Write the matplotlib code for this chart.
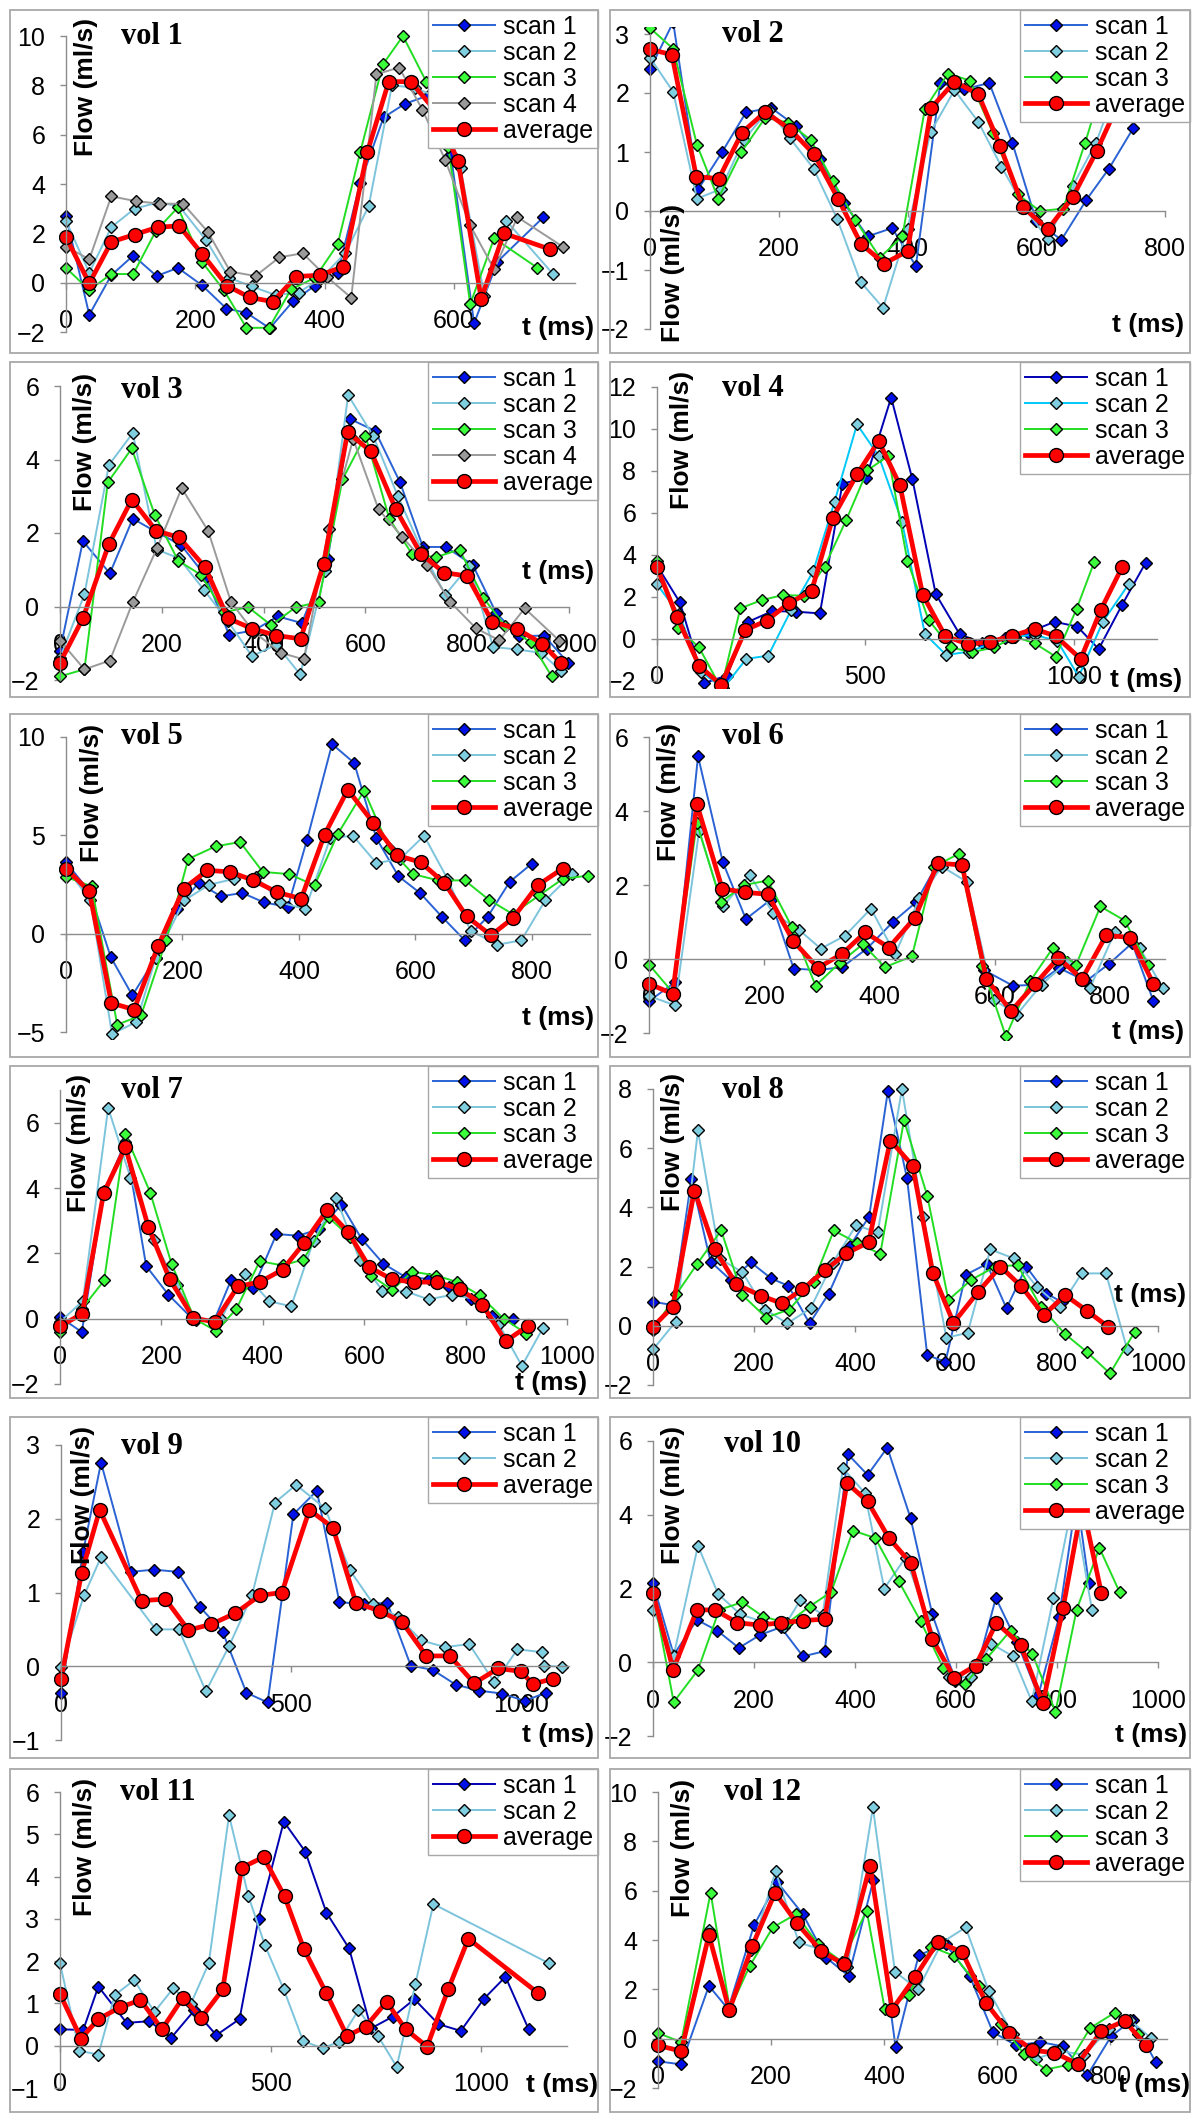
import matplotlib
matplotlib.use("Agg")
import matplotlib.pyplot as plt
from matplotlib.patches import Rectangle

W, H = 1200, 2118

# ---------------- data: t (ms), flow (ml/s) ----------------
vol1_scan1_t = [0, 36, 70, 104, 140, 173, 210, 248, 279, 315, 351, 385, 420, 455, 491, 524, 561, 595, 631, 667, 738]
vol1_scan1 = [2.7, -1.3, 0.3, 1.1, 0.27, 0.6, -0.1, -1.05, -1.22, -1.85, -0.75, -0.12, 0.4, 4.05, 6.7, 7.25, 7.6, 5.2, -1.65, 0.85, 2.65]
vol1_scan2_t = [0, 36, 70, 106, 142, 175, 216, 252, 287, 324, 360, 395, 432, 468, 504, 540, 575, 610, 647, 681, 753]
vol1_scan2 = [2.5, 0.4, 2.25, 3.0, 3.25, 3.1, 1.75, 0.2, -0.15, -0.5, -0.4, 0.2, 1.2, 3.1, 8.0, 7.9, 7.5, 4.65, -0.55, 2.5, 0.35]
vol1_scan3_t = [0, 36, 70, 104, 139, 173, 210, 244, 279, 314, 348, 385, 420, 455, 490, 521, 557, 591, 625, 662, 729]
vol1_scan3 = [0.6, -0.3, 0.35, 0.35, 2.1, 3.05, 0.85, -0.3, -1.83, -1.83, -0.27, 0.2, 1.55, 5.3, 8.85, 10.0, 8.15, 5.5, -0.87, 1.8, 0.6]
vol1_scan4_t = [0, 36, 70, 109, 146, 181, 219, 254, 293, 330, 366, 403, 441, 480, 515, 551, 586, 625, 662, 698, 768]
vol1_scan4 = [1.46, 0.95, 3.5, 3.3, 3.2, 3.2, 2.07, 0.45, 0.27, 1.03, 1.19, 0.24, -0.61, 8.45, 8.72, 7.02, 4.99, 2.32, 0.54, 2.66, 1.46]
vol1_avg_t = [0, 36, 70, 106, 142, 175, 211, 249, 284, 320, 356, 392, 429, 466, 499, 533, 570, 606, 642, 677, 749]
vol1_avg = [1.85, -0.03, 1.65, 1.95, 2.25, 2.3, 1.15, -0.12, -0.6, -0.77, 0.25, 0.3, 0.65, 5.3, 8.15, 8.15, 7.0, 4.95, -0.65, 2.0, 1.35]

vol2_scan1_t = [0, 36, 75, 112, 149, 188, 227, 264, 301, 338, 376, 413, 451, 487, 527, 563, 600, 639, 678, 713, 751]
vol2_scan1 = [2.4, 3.2, 0.37, 1.0, 1.67, 1.75, 1.44, 0.88, 0.14, -0.43, -0.29, -0.93, 2.17, 2.06, 2.17, 1.15, -0.17, -0.49, 0.19, 0.72, 1.41]
vol2_scan2_t = [0, 36, 73, 110, 146, 185, 217, 254, 291, 327, 362, 400, 436, 473, 510, 546, 582, 618, 657, 693, 728]
vol2_scan2 = [2.6, 2.02, 0.21, 0.37, 1.21, 1.72, 1.24, 0.72, -0.14, -1.2, -1.64, -0.3, 1.34, 2.05, 1.51, 0.75, 0.05, -0.48, 0.43, 1.16, 2.2]
vol2_scan3_t = [0, 36, 73, 106, 142, 179, 215, 250, 284, 319, 357, 392, 427, 463, 497, 533, 571, 606, 642, 676, 711]
vol2_scan3 = [3.1, 2.75, 1.12, 0.21, 1.0, 1.58, 1.5, 1.2, 0.51, -0.15, -0.79, -0.43, 1.73, 2.33, 2.21, 1.32, 0.28, 0.0, 0.04, 1.16, 2.4]
vol2_avg_t = [0, 34, 72, 107, 143, 179, 218, 255, 292, 328, 364, 400, 437, 473, 510, 544, 580, 618, 657, 694, 731]
vol2_avg = [2.74, 2.65, 0.58, 0.55, 1.33, 1.68, 1.38, 0.96, 0.21, -0.56, -0.89, -0.68, 1.75, 2.19, 1.98, 1.1, 0.06, -0.31, 0.24, 1.02, 1.9]

vol3_scan1_t = [0, 45, 98, 143, 189, 238, 287, 332, 381, 428, 475, 526, 570, 619, 668, 713, 758, 811, 857, 902, 951, 998]
vol3_scan1 = [-1.2, 1.78, 0.9, 2.39, 2.03, 1.67, 0.81, -0.77, -0.65, -0.27, -0.45, 1.3, 5.1, 4.78, 3.38, 1.62, 1.62, 1.13, -0.18, -0.81, -0.79, -1.53]
vol3_scan2_t = [0, 48, 96, 143, 190, 234, 283, 330, 377, 425, 472, 521, 566, 615, 664, 712, 757, 804, 851, 898, 945, 985]
vol3_scan2 = [-1.4, 0.33, 3.85, 4.72, 1.55, 1.31, 0.45, -0.4, -1.35, -1.04, -1.85, 0.97, 5.75, 4.65, 3.0, 1.5, 0.32, 1.11, -1.1, -1.17, -1.26, -1.76]
vol3_scan3_t = [0, 48, 94, 141, 186, 232, 277, 322, 370, 415, 463, 508, 555, 600, 647, 691, 738, 785, 832, 875, 925, 966]
vol3_scan3 = [-1.9, -1.71, 3.38, 4.3, 2.5, 1.25, 0.86, -0.15, -0.02, -0.51, -0.02, 0.12, 3.46, 4.65, 2.39, 1.44, 1.34, 1.55, 0.23, -0.54, -0.97, -1.9]
vol3_scan4_t = [0, 48, 98, 143, 191, 239, 291, 336, 381, 434, 479, 528, 576, 626, 672, 721, 767, 817, 863, 913, 981]
vol3_scan4 = [-0.93, -1.71, -1.47, 0.12, 1.6, 3.22, 2.06, 0.12, -0.7, -1.26, -1.44, 2.12, 4.56, 2.64, 1.9, 1.13, 0.12, -0.59, -0.92, -0.05, -0.93]
vol3_avg_t = [0, 45, 96, 141, 189, 234, 285, 330, 377, 425, 473, 518, 565, 611, 660, 709, 755, 800, 849, 898, 947, 985]
vol3_avg = [-1.53, -0.32, 1.7, 2.91, 2.06, 1.88, 1.07, -0.32, -0.6, -0.79, -0.88, 1.17, 4.74, 4.22, 2.64, 1.43, 0.92, 0.83, -0.41, -0.61, -1.01, -1.55]

vol4_scan1_t = [0, 55, 113, 168, 219, 277, 334, 391, 445, 502, 562, 613, 669, 726, 779, 835, 890, 954, 1009, 1060, 1116, 1173]
vol4_scan1 = [3.5, 1.74, -2.1, -1.74, 0.82, 1.33, 1.3, 1.22, 7.4, 7.67, 11.5, 7.6, 2.14, 0.24, -0.2, 0.05, 0.3, 0.82, 0.59, -0.48, 1.62, 3.64]
vol4_scan2_t = [0, 53, 105, 159, 214, 267, 322, 375, 426, 480, 532, 588, 643, 694, 749, 804, 855, 906, 961, 1012, 1070, 1132]
vol4_scan2 = [2.6, 1.2, -1.55, -2.35, -0.95, -0.79, 1.38, 3.23, 6.53, 10.22, 8.72, 5.58, 0.24, -0.76, -0.6, -0.2, 0.1, 0.2, -0.1, -1.79, 0.82, 2.61]
vol4_scan3_t = [0, 51, 101, 154, 200, 251, 302, 352, 402, 454, 505, 555, 601, 652, 705, 756, 809, 858, 906, 957, 1007, 1049]
vol4_scan3 = [3.7, 0.51, -0.4, -2.35, 1.46, 1.85, 2.09, 2.06, 3.44, 5.66, 8.03, 8.72, 3.72, 0.9, -0.4, -0.63, -0.4, 0.11, -0.2, -0.84, 1.43, 3.65]
vol4_avg_t = [0, 48, 101, 154, 212, 263, 316, 371, 422, 480, 532, 583, 638, 692, 747, 800, 851, 906, 957, 1017, 1065, 1116]
vol4_avg = [3.41, 1.06, -1.27, -2.19, 0.43, 0.87, 1.7, 2.28, 5.78, 7.84, 9.43, 7.32, 2.09, 0.14, -0.25, -0.13, 0.14, 0.48, 0.14, -0.95, 1.38, 3.41]

vol5_scan1_t = [0, 40, 77, 114, 154, 190, 228, 266, 303, 340, 381, 414, 457, 495, 533, 571, 608, 646, 685, 724, 762, 800]
vol5_scan1 = [3.64, 2.15, -1.2, -3.14, -1.24, 1.27, 2.58, 1.9, 2.07, 1.59, 1.36, 4.78, 9.64, 8.68, 4.86, 2.92, 2.07, 0.85, -0.34, 0.85, 2.63, 3.56]
vol5_scan2_t = [0, 42, 79, 121, 154, 203, 246, 288, 327, 368, 411, 454, 493, 533, 574, 615, 655, 695, 741, 782, 823, 869]
vol5_scan2 = [3.34, 1.69, -5.1, -4.49, -1.24, 1.69, 2.49, 2.78, 2.9, 1.59, 1.25, 4.86, 4.98, 3.59, 3.8, 4.98, 2.8, 0.15, -0.56, -0.34, 1.69, 3.03]
vol5_scan3_t = [0, 44, 88, 129, 172, 210, 257, 299, 338, 383, 427, 467, 512, 555, 596, 639, 685, 726, 767, 813, 853, 896]
vol5_scan3 = [2.88, 2.41, -4.63, -4.15, -0.34, 3.8, 4.44, 4.66, 3.14, 3.03, 2.46, 5.08, 7.27, 4.36, 3.03, 2.71, 2.71, 1.73, 1.0, 1.95, 2.78, 2.95]
vol5_avg_t = [0, 40, 78, 117, 158, 202, 243, 282, 322, 363, 404, 444, 484, 528, 569, 609, 650, 688, 730, 768, 810, 853]
vol5_avg = [3.31, 2.15, -3.53, -3.86, -0.64, 2.29, 3.22, 3.14, 2.71, 2.1, 1.78, 5.03, 7.32, 5.63, 3.98, 3.63, 2.58, 0.88, -0.08, 0.8, 2.46, 3.31]

vol6_scan1_t = [0, 45, 85, 128, 168, 211, 251, 293, 335, 378, 423, 463, 501, 541, 581, 631, 671, 711, 758, 798, 838, 875]
vol6_scan1 = [-1.14, -0.63, 5.48, 2.62, 1.08, 1.6, -0.26, -0.3, -0.22, 0.28, 1.0, 1.53, 2.59, 2.6, -0.3, -0.72, -0.7, -0.24, -0.6, -0.13, 0.43, -1.14]
vol6_scan2_t = [0, 45, 87, 128, 175, 215, 260, 298, 340, 385, 427, 469, 508, 551, 598, 638, 681, 725, 765, 808, 851, 891]
vol6_scan2 = [-1.0, -1.25, 3.47, 1.42, 2.27, 1.24, 0.79, 0.28, 0.63, 1.36, 0.13, 1.64, 2.5, 2.09, -1.1, -1.5, -0.69, -0.08, -0.78, 0.73, 0.3, -0.78]
vol6_scan3_t = [0, 41, 83, 125, 165, 206, 248, 289, 331, 371, 409, 456, 495, 537, 578, 619, 661, 701, 741, 783, 825, 865]
vol6_scan3 = [-0.15, -0.9, 3.67, 1.54, 2.0, 2.12, 0.86, -0.72, -0.1, 0.4, -0.22, 0.07, 2.5, 2.84, -0.2, -2.09, -0.6, 0.31, -0.15, 1.42, 1.04, -0.15]
vol6_avg_t = [0, 41, 83, 127, 167, 206, 250, 293, 335, 375, 416, 461, 501, 543, 585, 628, 670, 710, 751, 793, 835, 875]
vol6_avg = [-0.67, -0.94, 4.19, 1.9, 1.8, 1.75, 0.49, -0.24, 0.14, 0.72, 0.31, 1.11, 2.59, 2.54, -0.53, -1.41, -0.67, 0.03, -0.54, 0.64, 0.58, -0.67]

vol7_scan1_t = [0, 43, 87, 129, 170, 214, 261, 303, 337, 381, 427, 470, 511, 555, 595, 638, 682, 727, 767, 811, 852, 894]
vol7_scan1 = [0.05, -0.41, 3.9, 5.4, 1.61, 0.73, 0.0, -0.1, 1.17, 0.93, 2.59, 2.54, 2.74, 3.49, 2.44, 1.68, 1.27, 1.22, 0.97, 0.61, 0.07, 0.0]
vol7_scan2_t = [0, 45, 95, 139, 186, 230, 269, 318, 364, 413, 456, 500, 545, 591, 636, 683, 727, 773, 820, 865, 911, 952]
vol7_scan2 = [-0.1, 0.54, 6.45, 4.32, 2.4, 1.02, -0.03, 0.0, 1.37, 0.53, 0.38, 2.39, 3.69, 1.8, 0.86, 0.83, 0.59, 0.73, 0.6, -0.15, -1.45, -0.3]
vol7_scan3_t = [0, 43, 87, 129, 178, 220, 265, 308, 348, 394, 439, 480, 530, 572, 614, 655, 695, 742, 784, 828, 875, 920]
vol7_scan3 = [-0.41, 0.3, 1.17, 5.64, 3.86, 1.68, 0.0, -0.38, 0.3, 1.76, 1.63, 1.81, 3.1, 2.5, 1.32, 0.88, 1.44, 1.32, 1.12, 0.71, 0.0, -0.46]
vol7_avg_t = [0, 44, 86, 129, 174, 216, 263, 305, 351, 394, 439, 481, 527, 568, 610, 655, 698, 744, 788, 833, 879, 923]
vol7_avg = [-0.23, 0.15, 3.84, 5.25, 2.82, 1.22, 0.02, -0.1, 0.99, 1.12, 1.5, 2.31, 3.33, 2.66, 1.58, 1.2, 1.12, 1.12, 0.91, 0.43, -0.69, -0.22]

vol8_scan1_t = [0, 40, 76, 114, 154, 194, 234, 268, 310, 348, 390, 428, 465, 503, 543, 579, 619, 661, 700, 739, 779, 810]
vol8_scan1 = [0.81, 0.7, 4.95, 2.17, 1.54, 2.14, 1.6, 1.35, 0.08, 1.09, 2.7, 3.69, 7.92, 4.99, -0.99, -1.22, 1.72, 2.09, 0.59, 2.0, 1.09, 0.8]
vol8_scan2_t = [0, 45, 89, 133, 177, 222, 266, 312, 356, 402, 445, 493, 535, 581, 623, 668, 714, 760, 806, 849, 897, 939]
vol8_scan2 = [-0.8, 0.14, 6.6, 2.26, 1.81, 0.55, 0.08, 0.59, 2.13, 3.39, 3.16, 8.0, 3.69, -0.4, -0.24, 2.58, 2.28, 1.32, 0.64, 1.77, 1.77, -0.8]
vol8_scan3_t = [0, 46, 87, 135, 177, 224, 270, 318, 358, 403, 450, 497, 543, 585, 630, 678, 722, 768, 816, 859, 905, 954]
vol8_scan3 = [-0.15, 1.06, 2.08, 3.22, 1.04, 0.28, 0.55, 1.49, 3.22, 2.81, 2.43, 6.94, 4.4, 0.87, 1.55, 2.0, 2.05, 0.64, -0.28, -0.88, -1.61, -0.2]
vol8_avg_t = [0, 39, 82, 122, 165, 213, 255, 296, 341, 383, 427, 470, 514, 554, 595, 644, 688, 729, 774, 816, 859, 901]
vol8_avg = [-0.03, 0.64, 4.57, 2.6, 1.4, 1.02, 0.76, 1.23, 1.88, 2.45, 2.82, 6.26, 5.41, 1.79, 0.1, 1.15, 2.0, 1.34, 0.36, 1.04, 0.51, -0.03]

vol9_scan1_t = [0, 48, 87, 152, 202, 254, 301, 351, 403, 449, 505, 556, 605, 658, 709, 760, 808, 858, 908, 958, 1008, 1053]
vol9_scan1 = [-0.36, 1.55, 2.76, 1.28, 1.31, 1.28, 0.81, 0.47, -0.36, -0.49, 2.06, 2.38, 0.87, 0.84, 0.86, 0.01, -0.05, -0.25, -0.33, -0.37, -0.47, -0.36]
vol9_scan2_t = [0, 50, 87, 206, 256, 315, 365, 415, 465, 511, 574, 628, 678, 733, 783, 835, 887, 942, 992, 1046, 1050, 1089]
vol9_scan2 = [-0.01, 0.96, 1.48, 0.5, 0.5, -0.34, 0.27, 0.96, 2.22, 2.46, 2.14, 1.3, 0.85, 0.67, 0.35, 0.26, 0.3, -0.22, 0.23, 0.19, 0.01, -0.01]
vol9_avg_t = [0, 45, 84, 175, 227, 277, 327, 379, 432, 480, 540, 591, 641, 693, 741, 794, 845, 898, 950, 1000, 1025, 1069]
vol9_avg = [-0.17, 1.27, 2.12, 0.89, 0.91, 0.49, 0.57, 0.72, 0.96, 1.0, 2.12, 1.88, 0.86, 0.75, 0.6, 0.14, 0.14, -0.23, -0.03, -0.07, -0.24, -0.17]

vol10_scan1_t = [0, 41, 87, 127, 170, 212, 253, 297, 340, 386, 425, 464, 510, 553, 599, 645, 679, 721, 763, 804, 839, 863]
vol10_scan1 = [2.14, 0.2, 1.15, 0.86, 0.39, 0.74, 0.95, 0.16, 0.3, 5.64, 5.08, 5.82, 3.91, 1.3, -0.5, 0.02, 1.74, 0.54, -0.9, 1.22, 4.5, 2.14]
vol10_scan2_t = [0, 41, 89, 129, 173, 216, 259, 292, 336, 376, 419, 458, 500, 542, 586, 629, 670, 713, 750, 793, 832, 869]
vol10_scan2 = [1.43, 0.18, 3.16, 1.85, 1.3, 1.1, 0.95, 1.69, 1.29, 5.26, 4.6, 2.0, 2.84, 1.24, -0.4, -0.41, 0.5, 0.16, -1.06, 1.74, 4.4, 1.43]
vol10_scan3_t = [0, 41, 89, 131, 177, 218, 266, 310, 353, 396, 440, 487, 530, 575, 618, 660, 708, 751, 797, 839, 884, 924]
vol10_scan3 = [1.9, -1.08, -0.21, 1.42, 1.63, 1.24, 1.06, 1.51, 1.91, 3.57, 3.37, 2.19, 1.11, -0.16, -0.59, 0.09, 0.86, 0.23, -1.34, 1.43, 3.1, 1.9]
vol10_avg_t = [0, 40, 87, 123, 167, 211, 254, 298, 340, 384, 425, 467, 511, 553, 597, 639, 680, 728, 772, 812, 850, 888]
vol10_avg = [1.87, -0.2, 1.42, 1.42, 1.07, 1.01, 1.07, 1.13, 1.17, 4.86, 4.36, 3.37, 2.68, 0.63, -0.43, -0.09, 1.07, 0.47, -1.11, 1.47, 4.3, 1.87]

vol11_scan1_t = [0, 55, 91, 158, 212, 264, 319, 371, 426, 471, 531, 582, 632, 686, 738, 790, 841, 898, 951, 1005, 1057, 1112]
vol11_scan1 = [0.39, 0.37, 1.4, 0.54, 0.58, 0.19, 0.84, 0.25, 0.63, 3.0, 5.3, 4.59, 3.15, 2.3, 0.41, 0.69, 1.1, 0.51, 0.35, 1.1, 1.63, 0.39]
vol11_scan2_t = [0, 46, 91, 130, 176, 224, 269, 310, 353, 401, 447, 486, 531, 577, 623, 661, 708, 754, 799, 843, 886, 1160]
vol11_scan2 = [1.95, -0.12, -0.21, 1.2, 1.55, 0.8, 1.36, 0.98, 1.95, 5.45, 3.54, 2.38, 1.33, 0.11, -0.06, 0.09, 0.84, 0.24, -0.5, 1.45, 3.35, 1.95]
vol11_avg_t = [0, 50, 91, 143, 191, 242, 292, 335, 386, 431, 483, 533, 579, 632, 681, 725, 775, 820, 871, 921, 969, 1135]
vol11_avg = [1.22, 0.17, 0.63, 0.91, 1.08, 0.39, 1.14, 0.66, 1.33, 4.21, 4.46, 3.53, 2.28, 1.24, 0.23, 0.45, 1.04, 0.39, -0.02, 1.33, 2.53, 1.24]

vol12_scan1_t = [0, 41, 90, 124, 170, 211, 256, 297, 337, 381, 420, 461, 509, 551, 592, 633, 676, 716, 759, 801, 839, 880]
vol12_scan1 = [-0.92, -1.04, 2.14, 1.2, 4.61, 6.34, 5.05, 3.29, 2.55, 6.44, -0.34, 3.39, 3.82, 2.55, 0.27, -0.27, -0.14, -0.31, -1.49, 0.09, 0.77, -0.95]
vol12_scan2_t = [0, 41, 90, 124, 165, 208, 249, 290, 335, 380, 419, 460, 502, 544, 585, 627, 669, 709, 754, 798, 835, 871]
vol12_scan2 = [-0.3, -0.4, 4.4, 1.2, 3.6, 6.78, 3.9, 3.6, 2.9, 9.38, 2.71, 2.0, 3.9, 4.51, 1.92, 0.2, -0.81, -0.5, -0.65, 0.4, 0.75, 0.03]
vol12_scan3_t = [0, 41, 93, 127, 162, 203, 244, 283, 325, 369, 401, 444, 483, 524, 567, 606, 647, 686, 725, 764, 808, 849]
vol12_scan3 = [0.23, -0.14, 5.92, 1.19, 2.94, 4.51, 5.05, 3.83, 3.12, 5.19, 1.19, 1.79, 3.73, 3.35, 2.13, 0.58, -0.61, -1.25, -1.06, 0.43, 1.06, 0.2]
vol12_avg_t = [0, 41, 90, 126, 167, 207, 245, 288, 329, 375, 414, 454, 495, 538, 580, 621, 662, 701, 742, 784, 825, 863]
vol12_avg = [-0.27, -0.51, 4.2, 1.15, 3.77, 5.92, 4.7, 3.56, 3.01, 7.02, 1.18, 2.48, 3.93, 3.5, 1.45, 0.24, -0.47, -0.57, -1.02, 0.31, 0.72, -0.27]

# ---------------- styles ----------------
SCAN1 = dict(color='#2a62d4', mfc='#0010e8')
SCAN2 = dict(color='#7cc4dc', mfc='#80cfe0')
SCAN3 = dict(color='#22dd22', mfc='#3cff3c')
SCAN4 = dict(color='#9a9a9a', mfc='#9a9a9a')
AVG = dict(color='#ff0000', mfc='#ff0000')

SANS = 'Liberation Sans'
SERIF = 'Liberation Serif'

plt.rcParams['font.family'] = [SANS, 'DejaVu Sans']

# panel layout in pixels: axes box (l, r, t, b), legend top-right corner, label centres
panels = [
    dict(vol="vol 1", col=0, row=0,
         series=[(vol1_scan1_t, vol1_scan1, SCAN1), (vol1_scan2_t, vol1_scan2, SCAN2),
                 (vol1_scan3_t, vol1_scan3, SCAN3), (vol1_scan4_t, vol1_scan4, SCAN4)],
         avg=(vol1_avg_t, vol1_avg),
         axes=(66, 575, 36, 332), xlim=(0, 787), ylim=(-2, 10),
         xticks=[0, 200, 400, 600], yticks=[-2, 0, 2, 4, 6, 8, 10],
         flow=(86, 87), volpos=(152, 37), tms=(558, 328)),
    dict(vol="vol 2", col=1, row=0,
         series=[(vol2_scan1_t, vol2_scan1, SCAN1), (vol2_scan2_t, vol2_scan2, SCAN2),
                 (vol2_scan3_t, vol2_scan3, SCAN3)],
         avg=(vol2_avg_t, vol2_avg),
         axes=(650, 1165, 34, 329), xlim=(0, 800), ylim=(-2, 3),
         xticks=[0, 200, 400, 600, 800], yticks=[-2, -1, 0, 1, 2, 3],
         flow=(673, 273), volpos=(753, 35), tms=(1148, 325)),
    dict(vol="vol 3", col=0, row=1,
         series=[(vol3_scan1_t, vol3_scan1, SCAN1), (vol3_scan2_t, vol3_scan2, SCAN2),
                 (vol3_scan3_t, vol3_scan3, SCAN3), (vol3_scan4_t, vol3_scan4, SCAN4)],
         avg=(vol3_avg_t, vol3_avg),
         axes=(60, 569, 386, 680), xlim=(0, 1000), ylim=(-2, 6),
         xticks=[0, 200, 400, 600, 800, 1000], yticks=[-2, 0, 2, 4, 6],
         flow=(85, 442), volpos=(152, 390), tms=(558, 572)),
    dict(vol="vol 4", col=1, row=1,
         series=[(vol4_scan1_t, vol4_scan1, dict(SCAN1, color='#0000b4')),
                 (vol4_scan2_t, vol4_scan2, dict(SCAN2, color='#00c8f8')),
                 (vol4_scan3_t, vol4_scan3, SCAN3)],
         avg=(vol4_avg_t, vol4_avg),
         axes=(657, 1157, 387, 681), xlim=(0, 1200), ylim=(-2, 12),
         xticks=[0, 500, 1000], yticks=[-2, 0, 2, 4, 6, 8, 10, 12],
         flow=(682, 440), volpos=(753, 388), tms=(1146, 680)),
    dict(vol="vol 5", col=0, row=2,
         series=[(vol5_scan1_t, vol5_scan1, SCAN1), (vol5_scan2_t, vol5_scan2, SCAN2),
                 (vol5_scan3_t, vol5_scan3, SCAN3)],
         avg=(vol5_avg_t, vol5_avg),
         axes=(66, 590, 737, 1032), xlim=(0, 900), ylim=(-5, 10),
         xticks=[0, 200, 400, 600, 800], yticks=[-5, 0, 5, 10],
         flow=(92, 793), volpos=(152, 737), tms=(558, 1018)),
    dict(vol="vol 6", col=1, row=2,
         series=[(vol6_scan1_t, vol6_scan1, SCAN1), (vol6_scan2_t, vol6_scan2, SCAN2),
                 (vol6_scan3_t, vol6_scan3, SCAN3)],
         avg=(vol6_avg_t, vol6_avg),
         axes=(649, 1165, 737, 1033), xlim=(0, 895), ylim=(-2, 6),
         xticks=[0, 200, 400, 600, 800], yticks=[-2, 0, 2, 4, 6],
         flow=(669, 792), volpos=(753, 737), tms=(1148, 1032)),
    dict(vol="vol 7", col=0, row=3,
         series=[(vol7_scan1_t, vol7_scan1, SCAN1), (vol7_scan2_t, vol7_scan2, SCAN2),
                 (vol7_scan3_t, vol7_scan3, SCAN3)],
         avg=(vol7_avg_t, vol7_avg),
         axes=(60, 567, 1090, 1384), xlim=(0, 1000), ylim=(-2, 7),
         xticks=[0, 200, 400, 600, 800, 1000], yticks=[-2, 0, 2, 4, 6],
         flow=(79, 1143), volpos=(152, 1090), tms=(551, 1383)),
    dict(vol="vol 8", col=1, row=3,
         series=[(vol8_scan1_t, vol8_scan1, SCAN1), (vol8_scan2_t, vol8_scan2, SCAN2),
                 (vol8_scan3_t, vol8_scan3, SCAN3)],
         avg=(vol8_avg_t, vol8_avg),
         axes=(653, 1158, 1089, 1385), xlim=(0, 1000), ylim=(-2, 8),
         xticks=[0, 200, 400, 600, 800, 1000], yticks=[-2, 0, 2, 4, 6, 8],
         flow=(673, 1142), volpos=(753, 1090), tms=(1150, 1295)),
    dict(vol="vol 9", col=0, row=4,
         series=[(vol9_scan1_t, vol9_scan1, SCAN1), (vol9_scan2_t, vol9_scan2, SCAN2)],
         avg=(vol9_avg_t, vol9_avg),
         axes=(61, 569, 1445, 1740), xlim=(0, 1104), ylim=(-1, 3),
         xticks=[0, 500, 1000], yticks=[-1, 0, 1, 2, 3],
         flow=(83, 1495), volpos=(152, 1446), tms=(558, 1735)),
    dict(vol="vol 10", col=1, row=4,
         series=[(vol10_scan1_t, vol10_scan1, SCAN1), (vol10_scan2_t, vol10_scan2, SCAN2),
                 (vol10_scan3_t, vol10_scan3, SCAN3)],
         avg=(vol10_avg_t, vol10_avg),
         axes=(653, 1158, 1441, 1736), xlim=(0, 1000), ylim=(-2, 6),
         xticks=[0, 200, 400, 600, 800, 1000], yticks=[-2, 0, 2, 4, 6],
         flow=(673, 1495), volpos=(762, 1445), tms=(1151, 1735)),
    dict(vol="vol 11", col=0, row=5,
         series=[(vol11_scan1_t, vol11_scan1, dict(SCAN1, color='#0000b0')),
                 (vol11_scan2_t, vol11_scan2, SCAN2)],
         avg=(vol11_avg_t, vol11_avg),
         axes=(60, 567, 1792, 2088), xlim=(0, 1203), ylim=(-1, 6),
         xticks=[0, 500, 1000], yticks=[-1, 0, 1, 2, 3, 4, 5, 6],
         flow=(85, 1847), volpos=(158, 1792), tms=(562, 2085)),
    dict(vol="vol 12", col=1, row=5,
         series=[(vol12_scan1_t, vol12_scan1, SCAN1), (vol12_scan2_t, vol12_scan2, SCAN2),
                 (vol12_scan3_t, vol12_scan3, SCAN3)],
         avg=(vol12_avg_t, vol12_avg),
         axes=(658, 1167, 1792, 2088), xlim=(0, 900), ylim=(-2, 10),
         xticks=[0, 200, 400, 600, 800], yticks=[-2, 0, 2, 4, 6, 8, 10],
         flow=(683, 1848), volpos=(762, 1792), tms=(1154, 2085)),
]

col_x = [(10, 598), (610, 1190)]
row_y = [(10, 353), (362, 697), (714, 1057), (1066, 1398), (1417, 1758), (1769, 2112)]

fig = plt.figure(figsize=(W / 100, H / 100), dpi=100)
fig.patch.set_facecolor('white')


def fx(x):
    return x / W


def fy(y):
    return 1 - y / H


for p in panels:
    bx0, bx1 = col_x[p['col']]
    by0, by1 = row_y[p['row']]
    fig.add_artist(Rectangle((fx(bx0), fy(by1)), fx(bx1 - bx0), (by1 - by0) / H,
                             transform=fig.transFigure, fill=False,
                             edgecolor='#a8a8a8', linewidth=1.3))

    l, r, t, b = p['axes']
    x0, x1 = p['xlim']
    y0, y1 = p['ylim']
    m = 7
    dx = (x1 - x0) / (r - l)
    dy = (y1 - y0) / (b - t)
    ax = fig.add_axes([fx(l - m), fy(b + m), (r - l + 2 * m) / W, (b - t + 2 * m) / H])
    ax.set_xlim(x0 - m * dx, x1 + m * dx)
    ax.set_ylim(y0 - m * dy, y1 + m * dy)
    ax.patch.set_alpha(0)

    for s in ['top', 'right']:
        ax.spines[s].set_visible(False)
    ax.spines['left'].set_position(('data', 0))
    ax.spines['bottom'].set_position(('data', 0))
    ax.spines['left'].set_bounds(y0, y1)
    ax.spines['bottom'].set_bounds(x0, x1)
    for s in ['left', 'bottom']:
        ax.spines[s].set_color('#8c8c8c')
        ax.spines[s].set_linewidth(1.0)

    ax.set_xticks(p['xticks'])
    ax.set_yticks(p['yticks'])
    ax.tick_params(axis='both', direction='out', length=4, width=1,
                   color='#8c8c8c', labelsize=18)
    ax.tick_params(axis='x', pad=15)
    ax.tick_params(axis='y', pad=11)

    handles = []
    labels = []
    for i, (ts, vs, st) in enumerate(p['series']):
        h, = ax.plot(ts, vs, color=st['color'], lw=1.4, marker='D', ms=6.5,
                     mfc=st['mfc'], mec='black', mew=1.0)
        handles.append(h)
        labels.append("scan %d" % (i + 1))
    ta, va = p['avg']
    h, = ax.plot(ta, va, color=AVG['color'], lw=3.4, marker='o', ms=10,
                 mfc=AVG['mfc'], mec='black', mew=1.0)
    handles.append(h)
    labels.append("average")

    leg = ax.legend(handles, labels, loc='upper right',
                    bbox_to_anchor=(fx(bx1), fy(by0)), bbox_transform=fig.transFigure,
                    borderaxespad=0, fontsize=18, frameon=True, fancybox=False,
                    framealpha=1, edgecolor='#a8a8a8', labelspacing=0.08,
                    handlelength=2.5, handletextpad=0.3, borderpad=0.2)
    leg.get_frame().set_linewidth(1.0)
    leg.set_zorder(10)

    fig.text(fx(p['flow'][0]), fy(p['flow'][1]), "Flow (ml/s)", rotation=90,
             ha='center', va='center', fontsize=19, fontweight='bold', family=SANS)
    fig.text(fx(p['volpos'][0]), fy(p['volpos'][1]), p['vol'],
             ha='center', va='center', fontsize=22, fontweight='bold', family=SERIF)
    fig.text(fx(p['tms'][0]), fy(p['tms'][1]), "t (ms)",
             ha='center', va='center', fontsize=19, fontweight='bold', family=SANS)

fig.savefig("out.png", dpi=100, facecolor='white')
